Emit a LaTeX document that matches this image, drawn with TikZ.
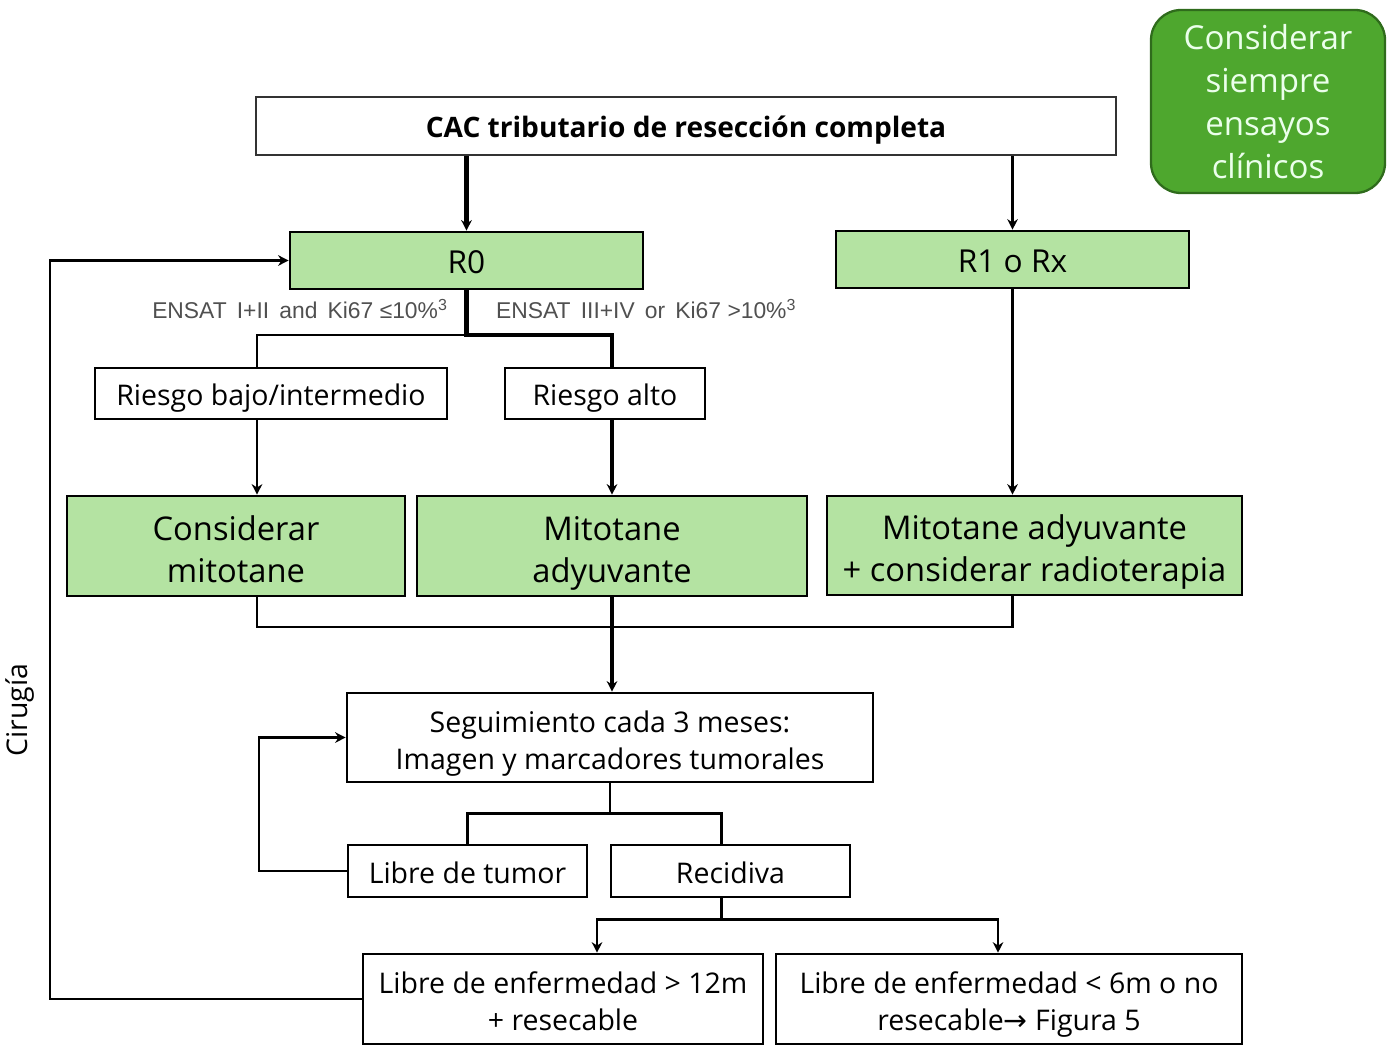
\documentclass[tikz,border=0pt]{standalone}
\usepackage{fontspec}
\setmainfont{Open Sans}
\newfontfamily\ensatfont{Liberation Sans}
\newfontfamily\symfont{DejaVu Sans}
\usetikzlibrary{arrows.meta, positioning, calc}
\definecolor{boxgreen}{HTML}{B4E3A2}
\definecolor{trialgreen}{HTML}{4EA72E}
\definecolor{trialedge}{HTML}{2F6B1C}
\definecolor{labelgray}{HTML}{505050}
\newcommand\topstrut{\rule{0pt}{1.1em}}
\newcommand\botstrut{\rule[-0.25em]{0pt}{0.25em}}
\newcommand\tallstrut{\rule{0pt}{1.18em}}

\tikzset{
  whitebox/.style={draw=black, line width=1.5pt, fill=white, align=center, inner sep=1pt,
    execute at begin node=\topstrut, execute at end node=\botstrut},
  greenbox/.style={whitebox, fill=boxgreen},
  thinline/.style={line width=1.5pt},
  thickline/.style={line width=2.5pt},
  arr/.style={-{Stealth[length=6pt, width=6pt]}},
  bigtext/.style={font=\fontsize{18.6}{24}\selectfont},
  midtext/.style={font=\fontsize{16.2}{21}\selectfont},
}

\begin{document}
\begin{tikzpicture}
    \useasboundingbox (0,0) rectangle (27.84,-20.9);

    % Top
    \node[whitebox, line width=1.3pt, draw=black!80, minimum width=17.2cm, minimum height=1.16cm, font=\fontsize{16}{19}\selectfont\bfseries] (title) at (13.72,-2.52) {CAC tributario de resección completa};
    \node[draw=trialedge, line width=1.3pt, fill=trialgreen, rounded corners=0.6cm, minimum width=4.68cm, minimum height=3.66cm, align=center, text=white!92!green, font=\fontsize{18.8}{24.5}\selectfont] (trials) at (25.36,-2.03) {Considerar\\siempre\\ensayos\\clínicos};

    % Resection status
    \node[greenbox, minimum width=7.06cm, minimum height=1.14cm, font=\fontsize{18}{21}\selectfont] (r0) at (9.33,-5.21) {R0};
    \node[greenbox, minimum width=7.06cm, minimum height=1.14cm, font=\fontsize{18}{21}\selectfont] (r1) at (20.25,-5.19) {R1 o Rx};

    \node[text=labelgray, font=\fontsize{13}{15}\selectfont\ensatfont, anchor=east] (lowlbl) at (9.08,-6.18) {ENSAT\, I+II\, and\, Ki67 ≤10\%\textsuperscript{3}};
    \node[text=labelgray, font=\fontsize{13}{15}\selectfont\ensatfont, anchor=west] (highlbl) at (9.8,-6.18) {ENSAT\, III+IV\, or\, Ki67 >10\%\textsuperscript{3}};

    % Risk
    \node[whitebox, minimum width=7.04cm, minimum height=1.02cm, midtext] (bajo) at (5.42,-7.87) {Riesgo bajo/intermedio};
    \node[whitebox, minimum width=4.0cm, minimum height=1.02cm, midtext] (alto) at (12.1,-7.87) {Riesgo alto};

    % Treatment
    \node[greenbox, minimum width=6.76cm, minimum height=2.0cm, bigtext] (cmit) at (4.72,-10.92) {\tallstrut Considerar\\mitotane};
    \node[greenbox, minimum width=7.8cm, minimum height=2.0cm, bigtext] (madj) at (12.24,-10.92) {\tallstrut Mitotane\\adyuvante};
    \node[greenbox, minimum width=8.3cm, minimum height=1.98cm, bigtext] (mrad) at (20.69,-10.91) {\tallstrut Mitotane adyuvante\\+ considerar radioterapia};

    % Follow-up
    \node[whitebox, minimum width=10.52cm, minimum height=1.78cm, midtext] (seg) at (12.2,-14.75) {\tallstrut Seguimiento cada 3 meses:\\Imagen y marcadores tumorales};
    \node[whitebox, minimum width=4.78cm, minimum height=1.04cm, midtext] (libre) at (9.35,-17.42) {Libre de tumor};
    \node[whitebox, minimum width=4.78cm, minimum height=1.04cm, midtext] (recid) at (14.61,-17.42) {Recidiva};
    \node[whitebox, minimum width=8.0cm, minimum height=1.8cm, midtext] (lib12) at (11.26,-19.98) {\tallstrut Libre de enfermedad > 12m\\+ resecable};
    \node[whitebox, minimum width=9.32cm, minimum height=1.8cm, midtext] (lib6) at (20.18,-19.98) {\tallstrut Libre de enfermedad < 6m o no\\resecable{\symfont →} Figura 5};

    \node[rotate=90, midtext] (cirugia) at (0.4,-14.2) {Cirugía};

    \coordinate (surgx) at (1.0,0);
    \coordinate (loopx) at (5.18,0);
    \coordinate (leftx) at (5.14,0);
    \coordinate (split) at (0,-6.7);
    \coordinate (merge) at (0,-12.54);

    % Connectors
    \draw[thickline, arr] (title.south -| r0.north) -- (r0.north);
    \draw[thinline, arr] (title.south -| r1.north) -- (r1.north);

    \draw[thinline] (r0.south |- split) -| (bajo.north -| leftx);
    \draw[thickline] (r0.south) -- (r0.south |- split) -| (alto.north -| madj.north);
    \draw[thinline, arr] (bajo.south -| leftx) -- (cmit.north -| leftx);
    \draw[thickline, arr] (alto.south -| madj.north) -- (madj.north);
    \draw[thinline, arr] (r1.south) -- (r1.south |- mrad.north);

    \draw[thinline] (cmit.south -| leftx) |- (merge -| r1.south) -- (mrad.south -| r1.south);
    \draw[thickline, arr] (madj.south) -- (madj.south |- seg.north);

    \draw[thinline] (seg.south) -- ++(0,-0.6) coordinate (segsplit) -| (libre.north);
    \draw[thinline] (segsplit) -| ([xshift=-0.18cm]recid.north);
    \draw[thinline, arr] (libre.west) -- (libre.west -| loopx) |- (seg.west);

    \draw[thinline, arr] ([xshift=-0.18cm]recid.south) -- ++(0,-0.42) coordinate (recsplit) -| ([xshift=0.68cm]lib12.north);
    \draw[thinline, arr] (recsplit) -| ([xshift=-0.22cm]lib6.north);

    \draw[thinline, arr] (lib12.west) -- (lib12.west -| surgx) |- (r0.west);
\end{tikzpicture}
\end{document}
